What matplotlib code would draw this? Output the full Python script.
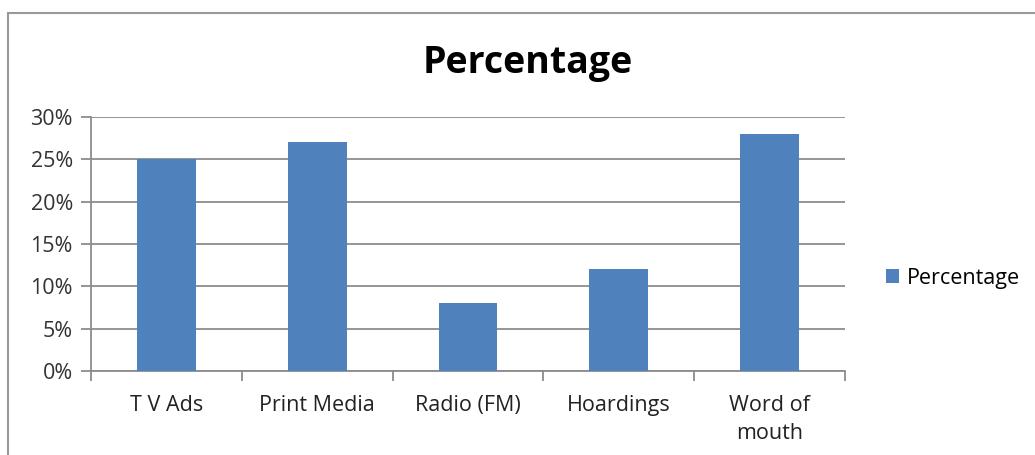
import matplotlib
matplotlib.use("Agg")
import matplotlib.pyplot as plt
from matplotlib.patches import Rectangle
from matplotlib.ticker import FuncFormatter, FixedLocator

plt.rcParams['font.family'] = ['Open Sans', 'DejaVu Sans']

categories = ["T V Ads", "Print Media", "Radio (FM)", "Hoardings", "Word of\nmouth"]
percentage = [25, 27, 8, 12, 28]
series_name = "Percentage"

bar_color = '#4f81bd'
grid_color = '#8c8c8c'

fig = plt.figure(figsize=(10.35, 4.55), dpi=100)
ax = fig.add_axes([0.0879, 0.1846, 0.7285, 0.5583])

x = range(len(categories))
ax.bar(x, percentage, width=0.39, color=bar_color, label=series_name, zorder=3)

ax.set_xlim(-0.5, len(categories) - 0.5)
ax.set_ylim(0, 30)
ax.set_yticks(range(0, 31, 5))
ax.yaxis.set_major_formatter(FuncFormatter(lambda v, p: f"{int(v)}%"))
ax.yaxis.grid(True, color=grid_color, linewidth=1.3, zorder=0)

# category labels centred, tick marks between categories
ax.set_xticks(list(x))
ax.set_xticklabels(categories, fontsize=15.5, color='#222222', linespacing=1.45)
ax.tick_params(axis='x', which='major', length=0, pad=17)
ax.xaxis.set_minor_locator(FixedLocator([i - 0.5 for i in range(len(categories) + 1)]))
ax.tick_params(axis='x', which='minor', length=7, width=1.3, color=grid_color)
ax.tick_params(axis='y', length=7, width=1.3, color=grid_color, labelsize=15.5,
               labelcolor='#333333', pad=6)

for side in ['top', 'right']:
    ax.spines[side].set_visible(False)
for side in ['left', 'bottom']:
    ax.spines[side].set_color(grid_color)
    ax.spines[side].set_linewidth(1.3)

fig.text(0.510, 0.862, "Percentage", ha='center', va='center',
         fontsize=27, fontweight='bold', color='black')

fig.legend(loc='center left', bbox_to_anchor=(0.837, 0.389), frameon=False,
           fontsize=15.5, handlelength=0.6, handleheight=0.6, handletextpad=0.4)

# chart border
fig.patches.append(Rectangle((8 / 1035, -0.2), 1.2, 1.2 - 13 / 455,
                             transform=fig.transFigure, fill=False,
                             edgecolor='#999999', linewidth=1.5))

fig.savefig("out.png", dpi=100)
